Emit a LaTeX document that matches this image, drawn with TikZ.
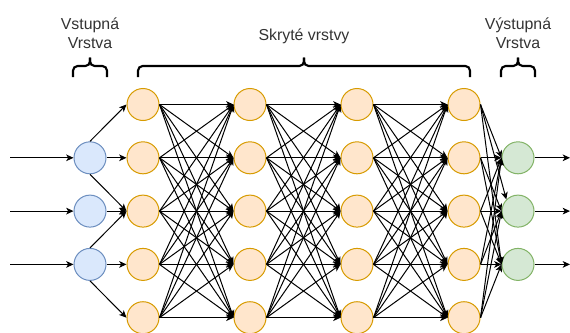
\documentclass[tikz,border=0pt]{standalone}
\usepackage{fontspec}
\setmainfont{Liberation Sans}
\usetikzlibrary{arrows.meta}

\definecolor{inFill}{HTML}{DAE8FC}
\definecolor{inLine}{HTML}{6C8EBF}
\definecolor{hidFill}{HTML}{FFE6CC}
\definecolor{hidLine}{HTML}{D79B00}
\definecolor{outFill}{HTML}{D5E8D4}
\definecolor{outLine}{HTML}{82B366}
\definecolor{txt}{HTML}{333333}

\begin{document}
\begin{tikzpicture}[x=0.75pt,y=-0.75pt,
  neuron/.style = {draw,circle,line width=0.75pt,minimum size=24pt,inner sep=0pt},
  inp/.style = {neuron,draw=inLine,fill=inFill},
  hid/.style = {neuron,draw=hidLine,fill=hidFill},
  outp/.style = {neuron,draw=outLine,fill=outFill},
  conn/.style = {-{Stealth[length=5.5pt,width=5pt,inset=1.5pt]},line width=0.75pt},
  brace/.style = {line width=1.6pt,rounded corners=3.5pt},
  lbl/.style = {align=center,text=txt,font=\fontsize{11.9}{14.3}\selectfont}]

\useasboundingbox (0,0) rectangle (570,332);

% layers
\foreach \r/\y in {2/157.8,3/211.1,4/264.4}{
  \node[inp] (i\r) at (90,\y) {};
  \node[outp] (o\r) at (518,\y) {};
  \coordinate (s\r) at (10,\y);
  \coordinate (e\r) at (570,\y);
}
\foreach \l/\x in {1/143,2/250,3/357,4/464}
  \foreach \r/\y in {1/104.5,2/157.8,3/211.1,4/264.4,5/317.7}
    \node[hid] (h\l-\r) at (\x,\y) {};

% inputs and outputs
\foreach \r in {2,3,4}{
  \path[conn] (s\r) edge (i\r.west);
  \path[conn] (o\r.east) edge (e\r);
}

% input layer -> first hidden layer
\path[conn] (i2.north) edge (h1-1.west);
\path[conn] (i2.east) edge (h1-2.west);
\path[conn] (i2.south) edge (h1-3.west);
\path[conn] (i3.east) edge (h1-3.west);
\path[conn] (i4.north) edge (h1-3.west);
\path[conn] (i4.east) edge (h1-4.west);
\path[conn] (i4.south) edge (h1-5.west);

% hidden layers, fully connected
\foreach \l/\m in {1/2,2/3,3/4}
  \foreach \a in {1,...,5}
    \foreach \b in {1,...,5}
      \path[conn] (h\l-\a.east) edge (h\m-\b.west);

% last hidden layer -> output
\foreach \a/\b in {1/2,2/2,2/3,3/2,3/3,4/2,4/3,5/2,5/3,1/4,2/4,3/4,4/4,5/4}
  \path[conn] (h4-\a.east) edge (o\b.west);
\path[conn] (h4-1.east) edge (o3.north west);

% braces
\draw[brace] (73,77) -- (73,66) -- (90,66) -- (90,57.5);
\draw[brace] (107,77) -- (107,66) -- (90,66) -- (90,57.5);
\draw[brace] (138,77) -- (138,66) -- (304,66) -- (304,57.5);
\draw[brace] (470,77) -- (470,66) -- (304,66) -- (304,57.5);
\draw[brace] (501,77) -- (501,66) -- (518,66) -- (518,57.5);
\draw[brace] (535,77) -- (535,66) -- (518,66) -- (518,57.5);

% labels
\node[lbl] (inLbl) at (90,33) {Vstupná\\Vrstva};
\node[lbl,anchor=base] (hidLbl) at (304,40) {Skryté vrstvy};
\node[lbl] (outLbl) at (518,33) {Výstupná\\Vrstva};

\end{tikzpicture}
\end{document}
